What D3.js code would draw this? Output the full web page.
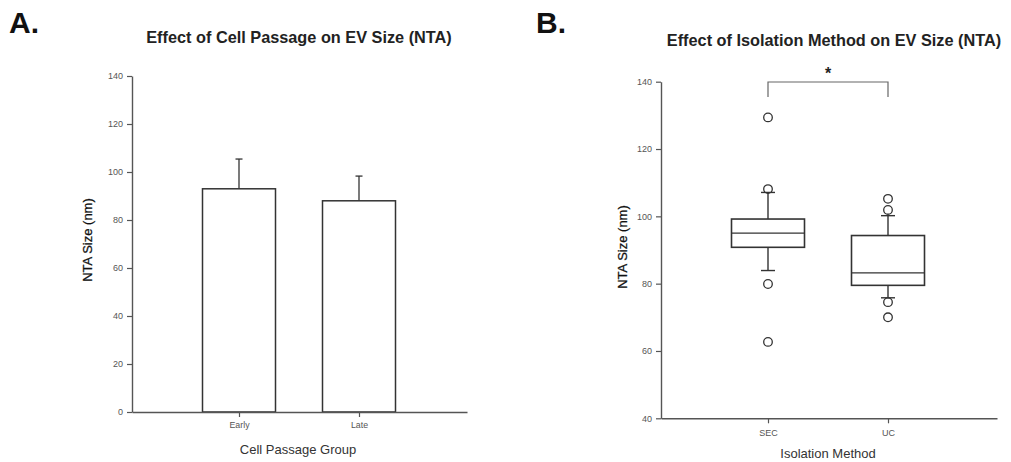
<!DOCTYPE html>
<html>
<head>
<meta charset="utf-8">
<script src="https://cdn.jsdelivr.net/npm/d3@7"></script>
<style>
  html, body { margin: 0; padding: 0; background: #fff; }
  svg { display: block; font-family: "Liberation Sans", Arial, sans-serif; }
</style>
</head>
<body>
<svg id="fig" width="1011" height="462"></svg>
<script>
// Panel A: mean NTA size by cell passage group (with SD)
const passageGroups = ["Early", "Late"];
const passageMeans = [93, 88];
const passageErrors = [12.4, 10.3];
const passageTicks = [0, 20, 40, 60, 80, 100, 120, 140];

// Panel B: NTA size distribution by isolation method
const methods = ["SEC", "UC"];
const methodQ1 = [90.8, 79.5];
const methodMedian = [95.0, 83.2];
const methodQ3 = [99.2, 94.3];
const methodWhiskerLow = [83.9, 75.8];
const methodWhiskerHigh = [107.1, 100.2];
const methodOutliers = [[129.4, 108.1, 79.9, 62.7], [105.2, 101.9, 74.5, 70.0]];
const methodTicks = [40, 60, 80, 100, 120, 140];

const svg = d3.select("#fig");
const ink = "#333";
const axisInk = "#555";

function styleAxis(g, labelSize) {
  g.select(".domain").attr("stroke", axisInk).attr("stroke-width", 1.4);
  g.selectAll(".tick line").attr("stroke", axisInk).attr("stroke-width", 1.2);
  g.selectAll(".tick text").attr("fill", "#555").attr("font-size", labelSize);
}

// ---------- Panel A ----------
{
  const x0 = 132, x1 = 467, yTop = 76, yBot = 412;
  const y = d3.scaleLinear().domain([0, 140]).range([yBot, yTop]);
  const x = d3.scaleLinear().domain([0, 1]).range([x0, x1]);
  const centers = [239, 359].map(c => (c - x0) / (x1 - x0)); // band centres in axis fraction
  const barW = 73;

  svg.append("text").attr("x", 9).attr("y", 33).attr("font-size", 30)
    .attr("font-weight", "bold").attr("fill", "#111").text("A.");
  svg.append("text").attr("x", 299).attr("y", 43).attr("text-anchor", "middle")
    .attr("font-size", 16.3).attr("font-weight", "bold").attr("fill", "#222")
    .text("Effect of Cell Passage on EV Size (NTA)");

  const bars = svg.append("g");
  passageGroups.forEach((g, i) => {
    const cx = x(centers[i]);
    // error bar
    bars.append("line").attr("x1", cx).attr("x2", cx)
      .attr("y1", y(passageMeans[i])).attr("y2", y(passageMeans[i] + passageErrors[i]))
      .attr("stroke", ink).attr("stroke-width", 1.3);
    bars.append("line").attr("x1", cx - 3.5).attr("x2", cx + 3.5)
      .attr("y1", y(passageMeans[i] + passageErrors[i])).attr("y2", y(passageMeans[i] + passageErrors[i]))
      .attr("stroke", ink).attr("stroke-width", 1.3);
    bars.append("rect").attr("x", cx - barW / 2).attr("width", barW)
      .attr("y", y(passageMeans[i])).attr("height", y(0) - y(passageMeans[i]))
      .attr("fill", "#fff").attr("stroke", ink).attr("stroke-width", 1.5);
  });

  const ya = svg.append("g").attr("transform", `translate(${x0},0)`)
    .call(d3.axisLeft(y).tickValues(passageTicks).tickSize(5).tickPadding(4).tickSizeOuter(0));
  styleAxis(ya, 9);

  const xa = svg.append("g").attr("transform", `translate(0,${yBot})`)
    .call(d3.axisBottom(x).tickValues(centers).tickSize(5).tickPadding(5).tickSizeOuter(0)
      .tickFormat((d, i) => passageGroups[i]));
  styleAxis(xa, 8.8);

  svg.append("text").attr("transform", `translate(92,240) rotate(-90)`)
    .attr("text-anchor", "middle").attr("font-size", 13).attr("fill", "#111")
    .attr("stroke", "#111").attr("stroke-width", 0.25)
    .text("NTA Size (nm)");
  svg.append("text").attr("x", 298).attr("y", 454).attr("text-anchor", "middle")
    .attr("font-size", 13).attr("fill", "#333").text("Cell Passage Group");
}

// ---------- Panel B ----------
{
  const x0 = 661, x1 = 997, yTop = 81.7, yBot = 418.3;
  const y = d3.scaleLinear().domain([40, 140]).range([yBot, yTop]);
  const x = d3.scaleLinear().domain([0, 1]).range([x0, x1]);
  const centers = [768, 888].map(c => (c - x0) / (x1 - x0));
  const boxW = 73, capW = 14;

  svg.append("text").attr("x", 536).attr("y", 33).attr("font-size", 30)
    .attr("font-weight", "bold").attr("fill", "#111").text("B.");
  svg.append("text").attr("x", 834).attr("y", 46).attr("text-anchor", "middle")
    .attr("font-size", 16.3).attr("font-weight", "bold").attr("fill", "#222")
    .text("Effect of Isolation Method on EV Size (NTA)");

  const boxes = svg.append("g");
  methods.forEach((m, i) => {
    const cx = x(centers[i]);
    const line = (x1_, y1_, x2_, y2_) => boxes.append("line")
      .attr("x1", x1_).attr("y1", y1_).attr("x2", x2_).attr("y2", y2_)
      .attr("stroke", ink).attr("stroke-width", 1.4);
    line(cx, y(methodQ3[i]), cx, y(methodWhiskerHigh[i]));
    line(cx, y(methodQ1[i]), cx, y(methodWhiskerLow[i]));
    line(cx - capW / 2, y(methodWhiskerHigh[i]), cx + capW / 2, y(methodWhiskerHigh[i]));
    line(cx - capW / 2, y(methodWhiskerLow[i]), cx + capW / 2, y(methodWhiskerLow[i]));
    boxes.append("rect").attr("x", cx - boxW / 2).attr("width", boxW)
      .attr("y", y(methodQ3[i])).attr("height", y(methodQ1[i]) - y(methodQ3[i]))
      .attr("fill", "#fff").attr("stroke", ink).attr("stroke-width", 1.6);
    line(cx - boxW / 2, y(methodMedian[i]), cx + boxW / 2, y(methodMedian[i]));
    methodOutliers[i].forEach(v => {
      boxes.append("circle").attr("cx", cx).attr("cy", y(v)).attr("r", 4.3)
        .attr("fill", "none").attr("stroke", ink).attr("stroke-width", 1.3);
    });
  });

  // significance bracket
  const bx1 = x(centers[0]), bx2 = x(centers[1]), by = 82;
  svg.append("path")
    .attr("d", `M${bx1},${by + 15}V${by}H${bx2}V${by + 15}`)
    .attr("fill", "none").attr("stroke", "#666").attr("stroke-width", 1.2);
  svg.append("text").attr("x", (bx1 + bx2) / 2).attr("y", 79).attr("text-anchor", "middle")
    .attr("font-size", 16).attr("font-weight", "bold").attr("fill", "#222").text("*");

  const ya = svg.append("g").attr("transform", `translate(${x0},0)`)
    .call(d3.axisLeft(y).tickValues(methodTicks).tickSize(5).tickPadding(4).tickSizeOuter(0));
  styleAxis(ya, 9);

  const xa = svg.append("g").attr("transform", `translate(0,${yBot})`)
    .call(d3.axisBottom(x).tickValues(centers).tickSize(5).tickPadding(6).tickSizeOuter(0)
      .tickFormat((d, i) => methods[i]));
  styleAxis(xa, 9);

  svg.append("text").attr("transform", `translate(627,247) rotate(-90)`)
    .attr("text-anchor", "middle").attr("font-size", 13).attr("fill", "#111")
    .attr("stroke", "#111").attr("stroke-width", 0.25)
    .text("NTA Size (nm)");
  svg.append("text").attr("x", 828).attr("y", 458).attr("text-anchor", "middle")
    .attr("font-size", 13).attr("fill", "#333").text("Isolation Method");
}
</script>
</body>
</html>
